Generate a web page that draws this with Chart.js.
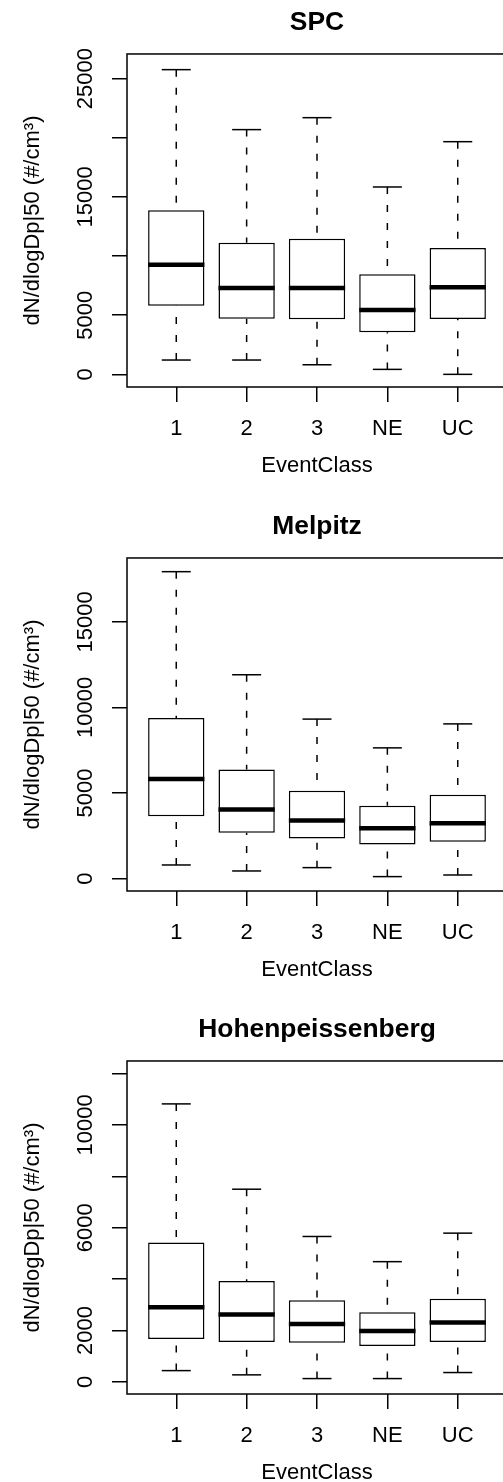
<!DOCTYPE html>
<html lang="en">
<head>
    <meta charset="UTF-8">
    <title>dN/dlogDp|50 by EventClass</title>
    <style>
        html, body { margin: 0; padding: 0; background: #fff; }
        body { width: 503px; height: 1482px; overflow: hidden; position: relative; }
        .panel { position: absolute; left: 0; width: 503px; height: 482px; overflow: hidden; }
        .panel canvas { position: absolute; left: 0; top: 0; }
    </style>
</head>
<body>

    <div class="panel" style="top:0px"><canvas id="spc" width="507" height="482"></canvas></div>
    <div class="panel" style="top:504px"><canvas id="melpitz" width="507" height="482"></canvas></div>
    <div class="panel" style="top:1007px"><canvas id="hohen" width="507" height="482"></canvas></div>

    <script src="https://cdn.jsdelivr.net/npm/chart.js"></script>
    <script>
        // categories on the x axis
        const eventClasses = ['1', '2', '3', 'NE', 'UC'];

        // SPC (whisker ends, quartiles, median)
        const spcMin = [1210, 1210, 810, 420, 0];
        const spcQ1 = [5800, 4700, 4650, 3550, 4680];
        const spcMedian = [9270, 7300, 7300, 5440, 7360];
        const spcQ3 = [13870, 11130, 11470, 8460, 10680];
        const spcMax = [25760, 20690, 21700, 15840, 19670];
        const spcTicks = [0, 5000, 10000, 15000, 20000, 25000];
        const spcTickLabels = ['0', '5000', '', '15000', '', '25000'];

        // Melpitz
        const melMin = [800, 450, 645, 120, 215];
        const melQ1 = [3650, 2680, 2340, 1990, 2150];
        const melMedian = [5820, 4040, 3400, 2950, 3240];
        const melQ3 = [9380, 6370, 5140, 4260, 4900];
        const melMax = [17930, 11910, 9320, 7640, 9040];
        const melTicks = [0, 5000, 10000, 15000];
        const melTickLabels = ['0', '5000', '10000', '15000'];

        // Hohenpeissenberg
        const hohMin = [440, 275, 130, 130, 365];
        const hohQ1 = [1670, 1550, 1525, 1395, 1550];
        const hohMedian = [2910, 2620, 2255, 1980, 2310];
        const hohQ3 = [5425, 3925, 3180, 2710, 3235];
        const hohMax = [10820, 7500, 5660, 4680, 5790];
        const hohTicks = [0, 2000, 4000, 6000, 8000, 10000, 12000];
        const hohTickLabels = ['0', '2000', '', '6000', '', '10000', ''];

        const yTitle = 'dN/dlogDp|50 (#/cm\u00B3)';

        Chart.defaults.font.family = "'Liberation Sans', Arial, sans-serif";
        Chart.defaults.color = '#000';

        // box around the plot region, like R's box()
        const plotFrame = {
            id: 'plotFrame',
            afterDatasetsDraw(chart) {
                const a = chart.chartArea;
                const ctx = chart.ctx;
                ctx.save();
                ctx.strokeStyle = '#000';
                ctx.lineWidth = 1.5;
                ctx.strokeRect(a.left, a.top, a.right - a.left, a.bottom - a.top);
                ctx.restore();
            }
        };

        const boxPlot = (id, title, lo, q1, med, q3, hi, yTicks, yLabels, yMin, yMax) => {
            const pos = eventClasses.map((c, i) => i + 1);

            // whiskers go from the end towards the box, with gaps between them
            let whiskers = [];
            pos.forEach((x, i) => {
                whiskers.push({x: x, y: hi[i]}, {x: x, y: q3[i]}, {x: x, y: null});
                whiskers.push({x: x, y: lo[i]}, {x: x, y: q1[i]}, {x: x, y: null});
            });
            let staples = [];
            pos.forEach((x, i) => {
                staples.push({x: x, y: hi[i]}, {x: x, y: lo[i]});
            });

            const ctx = document.getElementById(id).getContext('2d');
            return new Chart(ctx, {
                type: 'bar',
                data: {
                    datasets: [
                        {
                            type: 'scatter',
                            data: pos.map((x, i) => ({x: x, y: med[i]})),
                            pointStyle: 'line',
                            pointRadius: 28.15,
                            borderColor: '#000',
                            borderWidth: 4.5,
                            order: 0
                        },
                        {
                            type: 'bar',
                            data: pos.map((x, i) => ({x: x, y: [q1[i], q3[i]]})),
                            backgroundColor: '#fff',
                            borderColor: '#000',
                            borderWidth: 1.5,
                            borderSkipped: false,
                            barPercentage: 0.8,
                            categoryPercentage: 1,
                            order: 1
                        },
                        {
                            type: 'line',
                            data: whiskers,
                            borderColor: '#000',
                            borderWidth: 1.5,
                            borderDash: [7, 11],
                            pointRadius: 0,
                            spanGaps: false,
                            fill: false,
                            order: 2
                        },
                        {
                            type: 'scatter',
                            data: staples,
                            pointStyle: 'line',
                            pointRadius: 14.5,
                            borderColor: '#000',
                            borderWidth: 1.5,
                            order: 3
                        }
                    ]
                },
                options: {
                    responsive: false,
                    animation: false,
                    events: [],
                    layout: { padding: 0, autoPadding: false },
                    plugins: {
                        legend: { display: false },
                        tooltip: { enabled: false },
                        title: {
                            display: true,
                            text: title,
                            fullSize: false,
                            color: '#000',
                            font: { size: 26.4, weight: 'bold' },
                            padding: { top: 6.7, bottom: 15.6 }
                        }
                    },
                    scales: {
                        x: {
                            type: 'linear',
                            min: 0.3,
                            max: 5.7,
                            offset: false,
                            afterBuildTicks: (scale) => {
                                scale.ticks = pos.map(v => ({value: v}));
                            },
                            afterFit: (scale) => { scale.height = 95; },
                            border: { display: false },
                            grid: {
                                offset: false,
                                drawOnChartArea: false,
                                drawTicks: true,
                                tickLength: 15,
                                color: '#000',
                                lineWidth: 1.5
                            },
                            ticks: {
                                autoSkip: false,
                                maxRotation: 0,
                                padding: 14,
                                font: { size: 22 },
                                callback: (value) => eventClasses[value - 1]
                            },
                            title: {
                                display: true,
                                text: 'EventClass',
                                font: { size: 22 },
                                padding: { top: 0, bottom: 3 }
                            }
                        },
                        y: {
                            type: 'linear',
                            min: yMin,
                            max: yMax,
                            afterBuildTicks: (scale) => {
                                scale.ticks = yTicks.map(v => ({value: v}));
                            },
                            afterFit: (scale) => { scale.width = 127; },
                            border: { display: false },
                            grid: {
                                drawOnChartArea: false,
                                drawTicks: true,
                                tickLength: 15,
                                color: '#000',
                                lineWidth: 1.5
                            },
                            ticks: {
                                autoSkip: false,
                                minRotation: 90,
                                maxRotation: 90,
                                crossAlign: 'center',
                                padding: -5,
                                font: { size: 22 },
                                callback: (value, index) => yLabels[index]
                            },
                            title: {
                                display: true,
                                text: yTitle,
                                font: { size: 22 },
                                padding: { top: 20, bottom: 0 }
                            }
                        }
                    }
                },
                plugins: [plotFrame]
            });
        };

        boxPlot('spc', 'SPC', spcMin, spcQ1, spcMedian, spcQ3, spcMax, spcTicks, spcTickLabels, -1070, 27085);
        boxPlot('melpitz', 'Melpitz', melMin, melQ1, melMedian, melQ3, melMax, melTicks, melTickLabels, -720, 18730);
        boxPlot('hohen', 'Hohenpeissenberg', hohMin, hohQ1, hohMedian, hohQ3, hohMax, hohTicks, hohTickLabels, -470, 12490);
    </script>
</body>
</html>
